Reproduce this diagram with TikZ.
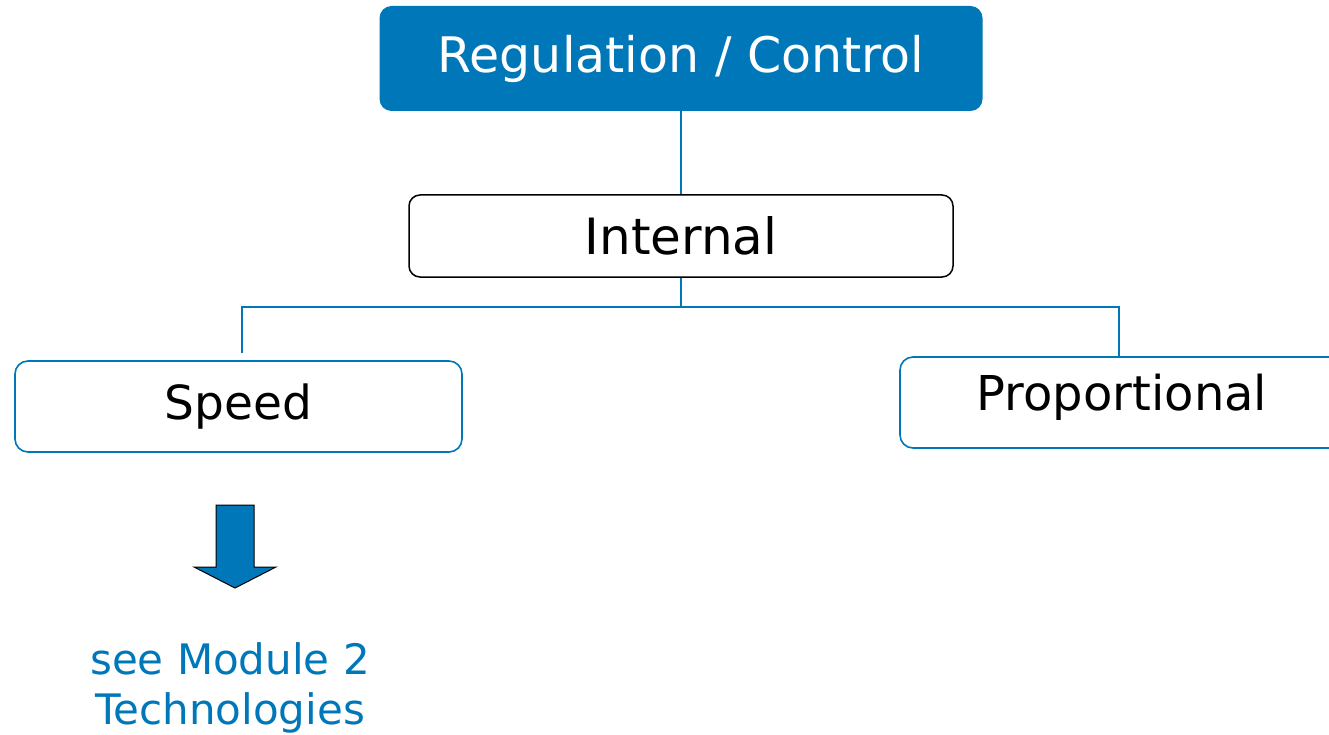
\documentclass[tikz,border=0pt]{standalone}
\usepackage{fontspec}
\setmainfont{DejaVu Sans}
\definecolor{mainblue}{HTML}{0077B8}
\begin{document}
\begin{tikzpicture}[x=1pt,y=-1pt,
  topbox/.style={draw=none,fill=mainblue,rounded corners=12pt,minimum width=603pt,minimum height=105pt,inner sep=0pt,text=white,font=\fontsize{49}{58}\selectfont},
  midbox/.style={draw=black,line width=1.5pt,fill=white,rounded corners=11pt,minimum width=544pt,minimum height=82pt,inner sep=0pt,font=\fontsize{50}{58}\selectfont},
  leafbox/.style={draw=mainblue,line width=1.6pt,fill=white,rounded corners=13pt,minimum height=91pt,inner sep=0pt,font=\fontsize{47}{56}\selectfont},
  conn/.style={draw=mainblue,line width=1.5pt},
  note/.style={text=mainblue,align=center,font=\fontsize{42}{50}\selectfont}
]
\useasboundingbox (0,0) rectangle (1329,735);
\node[topbox] (top) at (681,58.5) {Regulation / Control};
\node[midbox] (int) at (681,236) {Internal};
\node[leafbox,minimum width=447pt] (speed) at (238.5,406.5) {Speed};
\node[leafbox,minimum width=460pt] (prop) at (1130,402.5) {};
\node[font=\fontsize{48}{56}\selectfont] (proptext) at (1122,397) {Proportional};
\coordinate (bus) at (681,307);
\coordinate (sp) at (242,353);
\coordinate (pp) at (1119,357);
\draw[conn] (top.south) -- (int.north);
\draw[conn] (int.south) -- (bus);
\draw[conn] (sp) |- (bus) -| (pp);
\draw[fill=mainblue,draw=black,line width=1pt,line join=miter]
  (216,505) -- (254,505) -- (254,567) -- (276,567) -- (235,588) -- (194,567) -- (216,567) -- cycle;
\node[note] (see) at (230,688) {see Module 2\\Technologies};
\end{tikzpicture}
\end{document}
